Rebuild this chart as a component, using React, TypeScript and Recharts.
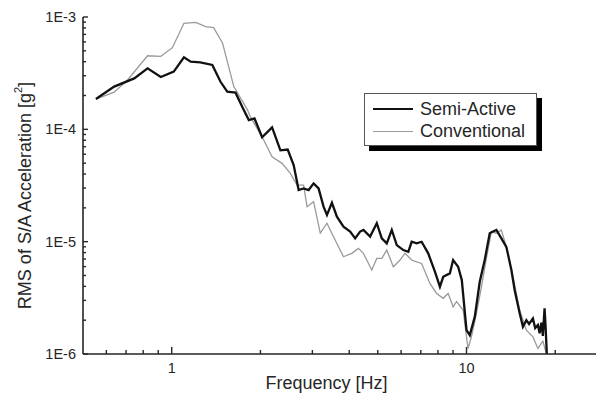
import { LineChart, Line, XAxis, YAxis } from 'recharts';

// Semi-Active response (black)
const semiActiveFreq = [
  0.553, 0.638, 0.746, 0.828, 0.918, 1.016, 1.1, 1.16, 1.25, 1.373, 1.464, 1.543, 1.646, 1.734,
  1.826, 1.909, 2.026, 2.19, 2.337, 2.474, 2.592, 2.695, 2.802, 2.913, 3.029, 3.149, 3.274,
  3.362, 3.495, 3.634, 3.825, 4.03, 4.19, 4.356, 4.47, 4.71, 4.962, 5.159, 5.364, 5.578, 5.8,
  6.105, 6.347, 6.516, 6.775, 7.043, 7.415, 7.814, 8.125, 8.337, 8.779, 9.009, 9.367, 9.64,
  10.0, 10.26, 10.67, 11.09, 11.53, 11.99, 12.3, 12.63, 13.13, 13.65, 14.2, 14.57, 15.15,
  15.54, 15.96, 16.3, 16.8, 17.1, 17.47, 17.7, 17.95, 18.16, 18.4, 18.54, 18.73,
];
const semiActiveRms = [
  1.86e-4, 2.4e-4, 2.84e-4, 3.49e-4, 2.92e-4, 3.26e-4, 4.38e-4, 4.0e-4, 3.95e-4, 3.74e-4,
  2.65e-4, 2.16e-4, 2.12e-4, 1.59e-4, 1.21e-4, 1.25e-4, 8.5e-5, 1.04e-4, 6.5e-5, 6.6e-5,
  4.81e-5, 2.88e-5, 2.98e-5, 2.88e-5, 3.3e-5, 2.98e-5, 2.05e-5, 1.73e-5, 2.22e-5, 1.67e-5,
  1.36e-5, 1.23e-5, 1.07e-5, 1.23e-5, 1.27e-5, 1.11e-5, 1.46e-5, 1.07e-5, 9.66e-6, 1.27e-5,
  9.33e-6, 8.42e-6, 8.13e-6, 9.98e-6, 9.66e-6, 9.98e-6, 7.87e-6, 5.4e-6, 3.97e-6, 4.87e-6,
  5.22e-6, 6.86e-6, 5.98e-6, 4.55e-6, 1.63e-6, 1.47e-6, 2.15e-6, 4.4e-6, 6.86e-6, 1.19e-5,
  1.23e-5, 1.27e-5, 1.07e-5, 9.0e-6, 5.6e-6, 3.7e-6, 2.3e-6, 1.75e-6, 2.0e-6, 1.85e-6,
  2.07e-6, 1.7e-6, 1.81e-6, 1.53e-6, 1.9e-6, 1.45e-6, 2.55e-6, 1.8e-6, 1.0e-6,
];

// Conventional response (grey)
const conventionalFreq = [
  0.553, 0.638, 0.708, 0.828, 0.918, 1.005, 1.1, 1.206, 1.303, 1.387, 1.487, 1.624, 1.807,
  1.85, 2.051, 2.19, 2.368, 2.526, 2.661, 2.802, 2.877, 3.029, 3.191, 3.362, 3.536, 3.825,
  4.084, 4.298, 4.47, 4.771, 4.962, 5.159, 5.364, 5.647, 5.95, 6.185, 6.516, 6.775, 7.043,
  7.514, 7.917, 8.337, 8.665, 9.009, 9.25, 9.74, 10.12, 10.39, 10.81, 11.24, 11.68, 12.15,
  12.63, 13.13, 13.65, 14.38, 15.15, 15.96, 16.8, 17.47, 18.16, 18.88,
];
const conventionalRms = [
  1.86e-4, 2.14e-4, 2.75e-4, 4.52e-4, 4.47e-4, 5.33e-4, 8.79e-4, 8.97e-4, 8.2e-4, 8.03e-4,
  5.87e-4, 2.4e-4, 1.49e-4, 1.29e-4, 8.03e-5, 5.7e-5, 4.98e-5, 4.06e-5, 3.19e-5, 3.19e-5,
  2.05e-5, 2.27e-5, 1.19e-5, 1.46e-5, 1.11e-5, 7.34e-6, 7.87e-6, 8.71e-6, 7.87e-6, 5.59e-6,
  7.1e-6, 7.1e-6, 8.42e-6, 5.98e-6, 6.86e-6, 7.87e-6, 6.86e-6, 6.6e-6, 6.4e-6, 4.25e-6,
  3.46e-6, 3.13e-6, 3.46e-6, 2.63e-6, 2.92e-6, 2.46e-6, 1.12e-6, 1.42e-6, 2.3e-6, 3.97e-6,
  7.1e-6, 1.23e-5, 1.19e-5, 1.27e-5, 9.0e-6, 4.87e-6, 2.46e-6, 1.63e-6, 1.42e-6, 1.12e-6,
  1.3e-6, 0.9e-6,
];

const xTicks = [0.6, 0.7, 0.8, 0.9, 1, 2, 3, 4, 5, 6, 7, 8, 9, 10, 20];
const yDecades = [1e-6, 1e-5, 1e-4];
const yDecadeLabels = ['1E-6', '1E-5', '1E-4', '1E-3'];
const seriesNames = ['Semi-Active', 'Conventional'];

const semiActive = semiActiveFreq.map((f, i) => ({ f, rms: semiActiveRms[i] }));
const conventional = conventionalFreq.map((f, i) => ({ f, rms: conventionalRms[i] }));
const yTicks = yDecades.flatMap((d) => [1, 2, 3, 4, 5, 6, 7, 8, 9].map((k) => k * d)).concat(1e-3);

const ink = '#262626';
const font = '"Liberation Sans", Arial, sans-serif';

const isDecade = (v: number) => Math.abs(Math.log10(v) - Math.round(Math.log10(v))) < 1e-6;

function BottomTick({ x, y, payload }: any) {
  const major = isDecade(payload.value);
  return (
    <g>
      <line x1={x} x2={x} y1={y} y2={y - (major ? 7 : 4)} stroke={ink} strokeWidth={1.4} />
      {major && (
        <text x={x} y={y + 19} textAnchor="middle" fontSize={14.5} fill={ink} fontFamily={font}>
          {payload.value}
        </text>
      )}
    </g>
  );
}

function TopTick({ x, y, payload }: any) {
  const major = isDecade(payload.value);
  return <line x1={x} x2={x} y1={y} y2={y + (major ? 6 : 3.5)} stroke={ink} strokeWidth={1.4} />;
}

function LeftTick({ x, y, payload }: any) {
  const major = isDecade(payload.value);
  const idx = Math.round(Math.log10(payload.value)) + 6;
  return (
    <g>
      <line x1={x} x2={x + (major ? 5 : 3)} y1={y} y2={y} stroke={ink} strokeWidth={1.4} />
      {major && (
        <text x={x - 7} y={y + 5} textAnchor="end" fontSize={14.5} fill={ink} fontFamily={font}>
          {yDecadeLabels[idx]}
        </text>
      )}
    </g>
  );
}

export default function App() {
  return (
    <div style={{ position: 'absolute', left: 0, top: 0, width: 602, height: 396, background: '#fff' }}>
      <LineChart width={602} height={396} margin={{ top: 17, right: 6, bottom: 0, left: 0 }}>
        <XAxis
          dataKey="f"
          type="number"
          scale="log"
          domain={[0.5, 27.5]}
          allowDataOverflow
          ticks={xTicks}
          interval={0}
          height={42}
          tickSize={0}
          tickMargin={0}
          tick={<BottomTick />}
          axisLine={{ stroke: ink, strokeWidth: 1.6 }}
          label={{
            content: ({ viewBox }: any) => (
              <text
                x={viewBox.x + viewBox.width / 2 - 13}
                y={viewBox.y + 35}
                textAnchor="middle"
                fontSize={18}
                fill={ink}
                fontFamily={font}
              >
                Frequency [Hz]
              </text>
            ),
          }}
        />
        <XAxis
          xAxisId="top"
          orientation="top"
          dataKey="f"
          type="number"
          scale="log"
          domain={[0.5, 27.5]}
          allowDataOverflow
          ticks={xTicks}
          interval={0}
          height={0}
          tickSize={0}
          tickMargin={0}
          tick={<TopTick />}
          axisLine={{ stroke: ink, strokeWidth: 1.6 }}
        />
        <YAxis
          type="number"
          scale="log"
          domain={[1e-6, 1e-3]}
          allowDataOverflow
          ticks={yTicks}
          interval={0}
          width={83}
          tickSize={0}
          tickMargin={0}
          tick={<LeftTick />}
          axisLine={{ stroke: ink, strokeWidth: 1.6 }}
          label={{
            content: ({ viewBox }: any) => {
              const cx = viewBox.x + 25;
              const cy = viewBox.y + viewBox.height / 2 + 10;
              return (
                <text
                  x={cx}
                  y={cy}
                  transform={`rotate(-90 ${cx} ${cy})`}
                  textAnchor="middle"
                  dominantBaseline="central"
                  fontSize={18}
                  fill={ink}
                  fontFamily={font}
                >
                  RMS of S/A Acceleration [g
                  <tspan dy={-7} fontSize={11}>2</tspan>
                  <tspan dy={7}>]</tspan>
                </text>
              );
            },
          }}
        />
        <YAxis
          yAxisId="right"
          orientation="right"
          type="number"
          scale="log"
          domain={[1e-6, 1e-3]}
          allowDataOverflow
          width={0}
          tick={false}
          tickLine={false}
          axisLine={{ stroke: ink, strokeWidth: 1.6 }}
        />
        <Line
          data={conventional}
          dataKey="rms"
          name={seriesNames[1]}
          type="linear"
          stroke="#9a9a9a"
          strokeWidth={1.3}
          dot={false}
          isAnimationActive={false}
        />
        <Line
          data={semiActive}
          dataKey="rms"
          name={seriesNames[0]}
          type="linear"
          stroke="#111"
          strokeWidth={2.3}
          dot={false}
          isAnimationActive={false}
        />
      </LineChart>
      <div
        style={{
          position: 'absolute',
          left: 364,
          top: 93,
          width: 173,
          height: 53,
          boxSizing: 'border-box',
          border: '1px solid #555',
          background: '#fff',
          boxShadow: '5px 5px 0 #000',
          fontFamily: font,
          fontSize: 18,
          color: ink,
        }}
      >
        {seriesNames.map((name, i) => (
          <div
            key={name}
            style={{ position: 'absolute', left: 8, top: 4 + i * 22, height: 22, display: 'flex', alignItems: 'center' }}
          >
            <div
              style={{
                width: 40,
                height: 0,
                borderTop: i === 0 ? '2.3px solid #111' : '1.3px solid #9a9a9a',
                marginRight: 7,
              }}
            />
            <span>{name}</span>
          </div>
        ))}
      </div>
    </div>
  );
}
